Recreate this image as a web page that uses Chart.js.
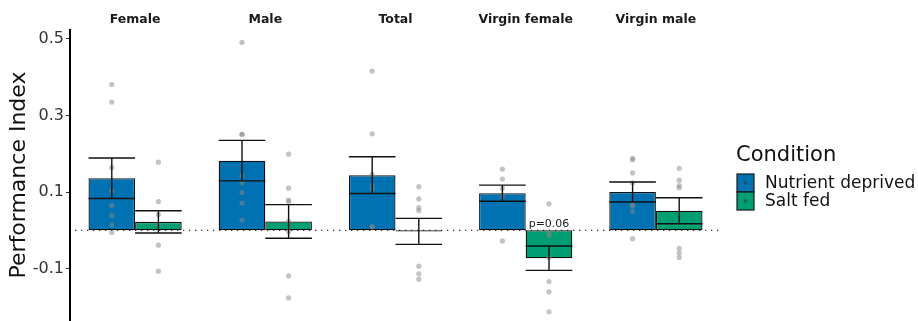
<!DOCTYPE html>
<html>
<head>
<meta charset="utf-8">
<script src="https://cdn.jsdelivr.net/npm/chart.js@4"></script>
<style>
  html, body { margin: 0; padding: 0; background: #fff; }
  #wrap { width: 918px; height: 321px; }
</style>
</head>
<body>
<div id="wrap"><canvas id="myChart"></canvas></div>
<script>
// data set
var categories = ['Female', 'Male', 'Total', 'Virgin female', 'Virgin male'];
var seriesNames = ['Nutrient deprived', 'Salt fed'];
var legendTitle = 'Condition';

var ndMean = [0.136, 0.182, 0.144, 0.097, 0.100];
var ndSe = [0.053, 0.053, 0.048, 0.021, 0.026];
var sfMean = [0.022, 0.023, -0.003, -0.073, 0.051];
var sfSe = [0.029, 0.044, 0.034, 0.032, 0.034];

// individual values per group
var ndPoints = [
  [0.381, 0.335, 0.164, 0.103, 0.065, 0.038, 0.014, -0.006],
  [0.491, 0.251, 0.251, 0.143, 0.124, 0.099, 0.071, 0.026],
  [0.416, 0.252, 0.146, 0.117, 0.108, 0.009, 0.009],
  [0.160, 0.134, 0.110, 0.088, -0.028],
  [0.188, 0.184, 0.150, 0.124, 0.068, 0.063, 0.049, -0.022]
];
var sfPoints = [
  [0.178, 0.075, 0.041, 0.014, -0.039, -0.107],
  [0.199, 0.110, 0.079, 0.075, 0.024, -0.003, -0.119, -0.177],
  [0.114, 0.082, 0.059, 0.051, -0.094, -0.114, -0.128],
  [0.069, -0.005, -0.014, -0.071, -0.134, -0.161, -0.213],
  [0.162, 0.131, 0.117, 0.111, -0.047, -0.059, -0.071]
];
var sfLabels = ['', '', '', 'p=0.06', ''];

var yTicks = [-0.1, 0.1, 0.3, 0.5];

// dotted zero line behind the bars
const zeroLine = {
  id: 'zeroLine',
  beforeDatasetsDraw(chart) {
    const ctx = chart.ctx, a = chart.chartArea;
    const y = chart.scales.y.getPixelForValue(0);
    ctx.save();
    ctx.strokeStyle = '#000';
    ctx.lineWidth = 1;
    ctx.setLineDash([1.3, 4.7]);
    ctx.beginPath();
    ctx.moveTo(a.left + 5, y);
    ctx.lineTo(a.right, y);
    ctx.stroke();
    ctx.restore();
  }
};

// points, error bars, p label, legend
const extras = {
  id: 'extras',
  afterDatasetsDraw(chart) {
    const ctx = chart.ctx, ys = chart.scales.y;
    const pts = [ndPoints, sfPoints];
    const means = [ndMean, sfMean];
    const ses = [ndSe, sfSe];
    ctx.save();
    for (let d = 0; d < 2; d++) {
      const meta = chart.getDatasetMeta(d);
      meta.data.forEach((bar, i) => {
        ctx.fillStyle = 'rgba(135,135,135,0.5)';
        pts[d][i].forEach(v => {
          ctx.beginPath();
          ctx.arc(bar.x, ys.getPixelForValue(v), 2.6, 0, Math.PI * 2);
          ctx.fill();
        });
        const hi = ys.getPixelForValue(means[d][i] + ses[d][i]);
        const lo = ys.getPixelForValue(means[d][i] - ses[d][i]);
        const half = bar.width / 2;
        ctx.strokeStyle = '#111';
        ctx.lineWidth = 1.4;
        ctx.beginPath();
        ctx.moveTo(bar.x, hi); ctx.lineTo(bar.x, lo);
        ctx.moveTo(bar.x - half, hi); ctx.lineTo(bar.x + half, hi);
        ctx.moveTo(bar.x - half, lo); ctx.lineTo(bar.x + half, lo);
        ctx.stroke();
      });
    }
    const sfMeta = chart.getDatasetMeta(1);
    ctx.fillStyle = '#1a1a1a';
    ctx.font = '11px "DejaVu Sans"';
    ctx.textAlign = 'center';
    ctx.textBaseline = 'bottom';
    sfMeta.data.forEach((bar, i) => {
      if (sfLabels[i]) ctx.fillText(sfLabels[i], bar.x, ys.getPixelForValue(0) - 1);
    });
    ctx.restore();
  },
  afterDraw(chart) {
    const ctx = chart.ctx;
    const x0 = chart.chartArea.right + 15;
    ctx.save();
    ctx.fillStyle = '#111';
    ctx.font = '21px "DejaVu Sans"';
    ctx.textAlign = 'left';
    ctx.textBaseline = 'alphabetic';
    ctx.fillText(legendTitle, x0, 161);
    chart.data.datasets.forEach((ds, k) => {
      const top = 174 + k * 18;
      ctx.fillStyle = ds.backgroundColor;
      ctx.fillRect(x0 + 1, top, 17, 18);
      ctx.strokeStyle = '#1a1a1a';
      ctx.lineWidth = 1.2;
      ctx.strokeRect(x0 + 1, top, 17, 18);
      ctx.fillStyle = 'rgba(60,60,60,0.6)';
      ctx.beginPath();
      ctx.arc(x0 + 9.5, top + 9, 1.8, 0, Math.PI * 2);
      ctx.fill();
      ctx.fillStyle = '#111';
      ctx.font = '17px "DejaVu Sans"';
      ctx.textBaseline = 'middle';
      ctx.fillText(ds.label, x0 + 29, top + 9.5);
    });
    ctx.restore();
  }
};

new Chart('myChart', {
  type: 'bar',
  data: {
    labels: categories,
    datasets: [{
      label: seriesNames[0],
      data: ndMean,
      backgroundColor: '#0072B2',
      borderColor: '#111',
      borderWidth: 1.3,
      borderSkipped: false
    }, {
      label: seriesNames[1],
      data: sfMean,
      backgroundColor: '#009E73',
      borderColor: '#111',
      borderWidth: 1.3,
      borderSkipped: false
    }]
  },
  plugins: [zeroLine, extras],
  options: {
    responsive: true,
    maintainAspectRatio: false,
    animation: false,
    layout: { padding: { top: 0, bottom: 1, right: 197, left: 0 } },
    datasets: { bar: { categoryPercentage: 0.716, barPercentage: 1.0 } },
    plugins: {
      tooltip: { enabled: false },
      legend: { display: false }
    },
    scales: {
      x: {
        position: 'top',
        grid: { display: false, drawTicks: false, tickLength: 0 },
        border: { display: false },
        ticks: {
          color: '#1a1a1a',
          font: { family: 'DejaVu Sans', size: 12.5, weight: 'bold' },
          padding: 3
        },
        afterFit(scale) {
          scale.height = 30;
          scale.paddingLeft = 0;
          scale.paddingRight = 0;
        }
      },
      y: {
        min: -0.2346,
        max: 0.5235,
        afterBuildTicks(scale) { scale.ticks = yTicks.map(v => ({ value: v })); },
        grid: { drawOnChartArea: false, drawTicks: true, tickLength: 4, color: '#333', lineWidth: 1 },
        border: { display: true, color: '#000', width: 2 },
        ticks: {
          color: '#333',
          font: { family: 'DejaVu Sans', size: 16 },
          padding: 2,
          callback: v => v.toFixed(1)
        },
        title: {
          display: true,
          text: 'Performance Index',
          color: '#111',
          font: { family: 'DejaVu Sans', size: 22 },
          padding: { top: 6, bottom: 0 }
        },
        afterFit(scale) {
          scale.width = 70;
          scale.paddingTop = 0;
          scale.paddingBottom = 0;
        }
      }
    }
  }
});
</script>
</body>
</html>
